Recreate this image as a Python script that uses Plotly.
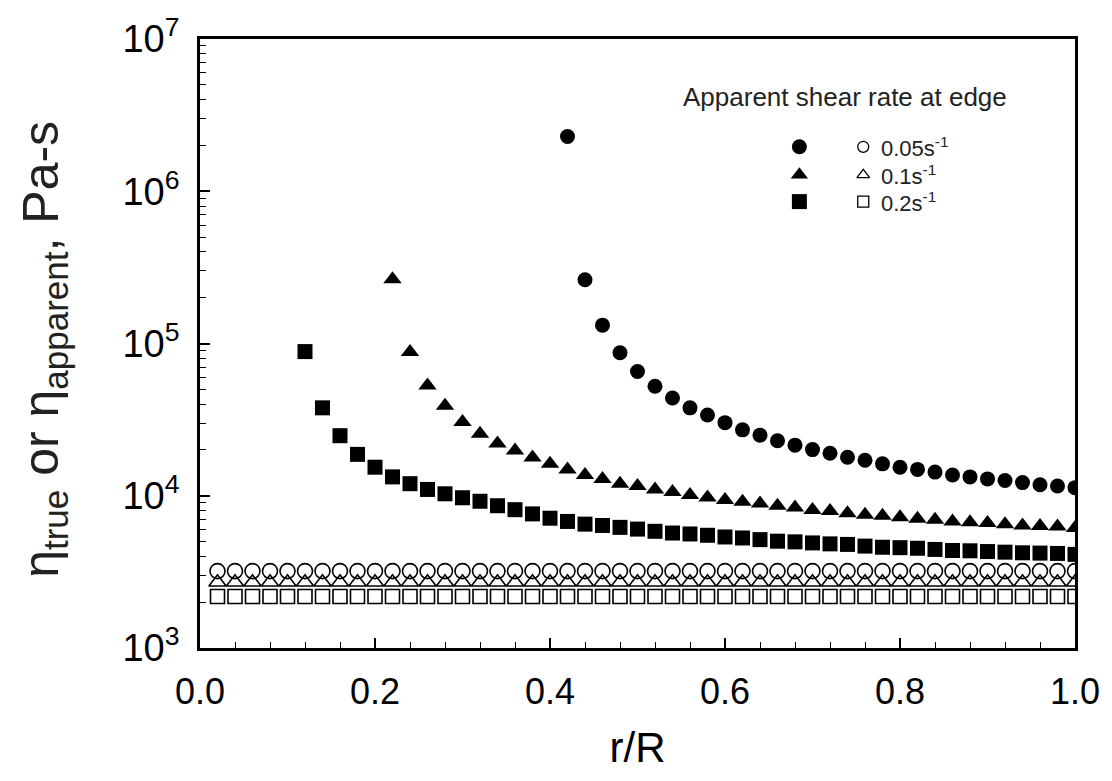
import plotly.graph_objects as go

# ---------------- data ----------------
r_open = [0.02, 0.04, 0.06, 0.08, 0.10, 0.12, 0.14, 0.16, 0.18, 0.20,
          0.22, 0.24, 0.26, 0.28, 0.30, 0.32, 0.34, 0.36, 0.38, 0.40,
          0.42, 0.44, 0.46, 0.48, 0.50, 0.52, 0.54, 0.56, 0.58, 0.60,
          0.62, 0.64, 0.66, 0.68, 0.70, 0.72, 0.74, 0.76, 0.78, 0.80,
          0.82, 0.84, 0.86, 0.88, 0.90, 0.92, 0.94, 0.96, 0.98, 1.00]

eta_app_005 = [3200, 3200, 3200, 3200, 3200, 3200, 3200, 3200, 3200, 3200,
               3200, 3200, 3200, 3200, 3200, 3200, 3200, 3200, 3200, 3200,
               3200, 3200, 3200, 3200, 3200, 3200, 3200, 3200, 3200, 3200,
               3200, 3200, 3200, 3200, 3200, 3200, 3200, 3200, 3200, 3200,
               3200, 3200, 3200, 3200, 3200, 3200, 3200, 3200, 3200, 3200]
eta_app_01 = [2700, 2700, 2700, 2700, 2700, 2700, 2700, 2700, 2700, 2700,
              2700, 2700, 2700, 2700, 2700, 2700, 2700, 2700, 2700, 2700,
              2700, 2700, 2700, 2700, 2700, 2700, 2700, 2700, 2700, 2700,
              2700, 2700, 2700, 2700, 2700, 2700, 2700, 2700, 2700, 2700,
              2700, 2700, 2700, 2700, 2700, 2700, 2700, 2700, 2700, 2700]
eta_app_02 = [2180, 2180, 2180, 2180, 2180, 2180, 2180, 2180, 2180, 2180,
              2180, 2180, 2180, 2180, 2180, 2180, 2180, 2180, 2180, 2180,
              2180, 2180, 2180, 2180, 2180, 2180, 2180, 2180, 2180, 2180,
              2180, 2180, 2180, 2180, 2180, 2180, 2180, 2180, 2180, 2180,
              2180, 2180, 2180, 2180, 2180, 2180, 2180, 2180, 2180, 2180]

r_true_005 = [0.42, 0.44, 0.46, 0.48, 0.50, 0.52, 0.54, 0.56, 0.58, 0.60,
              0.62, 0.64, 0.66, 0.68, 0.70, 0.72, 0.74, 0.76, 0.78, 0.80,
              0.82, 0.84, 0.86, 0.88, 0.90, 0.92, 0.94, 0.96, 0.98, 1.00]
eta_true_005 = [2.29e6, 2.62e5, 1.32e5, 8.7e4, 6.55e4, 5.24e4, 4.39e4, 3.78e4, 3.39e4, 3.02e4,
                2.71e4, 2.50e4, 2.30e4, 2.15e4, 2.01e4, 1.90e4, 1.79e4, 1.71e4, 1.62e4, 1.54e4,
                1.49e4, 1.43e4, 1.37e4, 1.33e4, 1.29e4, 1.26e4, 1.22e4, 1.18e4, 1.16e4, 1.13e4]

r_true_01 = [0.22, 0.24, 0.26, 0.28, 0.30, 0.32, 0.34, 0.36, 0.38, 0.40,
             0.42, 0.44, 0.46, 0.48, 0.50, 0.52, 0.54, 0.56, 0.58, 0.60,
             0.62, 0.64, 0.66, 0.68, 0.70, 0.72, 0.74, 0.76, 0.78, 0.80,
             0.82, 0.84, 0.86, 0.88, 0.90, 0.92, 0.94, 0.96, 0.98, 1.00]
eta_true_01 = [2.64e5, 8.8e4, 5.3e4, 3.9e4, 3.05e4, 2.55e4, 2.2e4, 1.98e4, 1.78e4, 1.62e4,
               1.49e4, 1.37e4, 1.29e4, 1.20e4, 1.16e4, 1.10e4, 1.06e4, 1.01e4, 9750, 9380,
               9140, 8910, 8610, 8360, 8070, 7950, 7670, 7490, 7380, 7230,
               7060, 6950, 6780, 6710, 6610, 6510, 6380, 6330, 6290, 6130]

r_true_02 = [0.12, 0.14, 0.16, 0.18, 0.20, 0.22, 0.24, 0.26, 0.28, 0.30,
             0.32, 0.34, 0.36, 0.38, 0.40, 0.42, 0.44, 0.46, 0.48, 0.50,
             0.52, 0.54, 0.56, 0.58, 0.60, 0.62, 0.64, 0.66, 0.68, 0.70,
             0.72, 0.74, 0.76, 0.78, 0.80, 0.82, 0.84, 0.86, 0.88, 0.90,
             0.92, 0.94, 0.96, 0.98, 1.00]
eta_true_02 = [8.85e4, 3.78e4, 2.48e4, 1.87e4, 1.54e4, 1.33e4, 1.20e4, 1.10e4, 1.03e4, 9700,
               9200, 8600, 8100, 7600, 7120, 6780, 6510, 6380, 6200, 6040,
               5840, 5690, 5610, 5500, 5360, 5280, 5150, 5030, 4980, 4900,
               4830, 4790, 4670, 4590, 4560, 4520, 4440, 4370, 4350, 4300,
               4260, 4220, 4200, 4180, 4120]

legend_title = "Apparent shear rate at edge"
legend_labels = ["0.05s<sup>-1</sup>", "0.1s<sup>-1</sup>", "0.2s<sup>-1</sup>"]

y_title = "η<sub>true</sub> or η<sub>apparent</sub>, Pa-s"
x_title = "r/R"
y_tickvals = [1e3, 1e4, 1e5, 1e6, 1e7]
y_ticktext = ["10<sup>3</sup>", "10<sup>4</sup>", "10<sup>5</sup>", "10<sup>6</sup>", "10<sup>7</sup>"]
x_tickvals = [0.0, 0.2, 0.4, 0.6, 0.8, 1.0]
x_ticktext = ["0.0", "0.2", "0.4", "0.6", "0.8", "1.0"]

# ---------------- styling ----------------
FONT = "Arial, Liberation Sans, sans-serif"
fig = go.Figure()

def filled(x, y, sym, size):
    fig.add_trace(go.Scatter(x=x, y=y, mode="markers", showlegend=False,
                             marker=dict(symbol=sym, size=size, color="black",
                                         line=dict(width=0))))

def hollow(x, y, sym, size):
    fig.add_trace(go.Scatter(x=x, y=y, mode="markers", showlegend=False,
                             marker=dict(symbol=sym + "-open", size=size, color="black",
                                         line=dict(width=1.6, color="black"))))

hollow(r_open, eta_app_005, "circle", 15)
hollow(r_open, eta_app_01, "triangle-up", 15)
hollow(r_open, eta_app_02, "square", 14)
filled(r_true_005, eta_true_005, "circle", 15)
filled(r_true_01, eta_true_01, "triangle-up", 16)
filled(r_true_02, eta_true_02, "square", 15)

# legend drawn on an invisible overlay axis (0..1 coordinates over the plot area)
leg_rows = [0.823, 0.777, 0.733]
leg_syms = ["circle", "triangle-up", "square"]
for yy, sym, lab in zip(leg_rows, leg_syms, legend_labels):
    fig.add_trace(go.Scatter(x=[0.685], y=[yy], mode="markers", xaxis="x2", yaxis="y2",
                             showlegend=False,
                             marker=dict(symbol=sym, size=15, color="black")))
    fig.add_trace(go.Scatter(x=[0.758], y=[yy], mode="markers", xaxis="x2", yaxis="y2",
                             showlegend=False,
                             marker=dict(symbol=sym + "-open", size=11, color="black",
                                         line=dict(width=1.3, color="black"))))
    fig.add_annotation(x=0.776, y=yy, xref="x2", yref="y2", text=lab, showarrow=False,
                       xanchor="left", yanchor="middle",
                       font=dict(family=FONT, size=22, color="#222"))

fig.add_annotation(x=0.550, y=0.905, xref="x2", yref="y2", text=legend_title,
                   showarrow=False, xanchor="left", yanchor="middle",
                   font=dict(family=FONT, size=26, color="#222"))

# y-axis title as a rotated annotation
fig.add_annotation(x=-0.178, y=0.49, xref="paper", yref="paper", text=y_title,
                   textangle=-90, showarrow=False, xanchor="center", yanchor="middle",
                   font=dict(family=FONT, size=50, color="#222"))

fig.update_layout(
    width=1112, height=781,
    margin=dict(l=200, r=30, t=32, b=133),
    paper_bgcolor="white", plot_bgcolor="white",
    font=dict(family=FONT, color="black"),
    xaxis=dict(range=[0, 1], showgrid=False, zeroline=False,
               showline=True, linewidth=2.8, linecolor="black", mirror=True,
               ticks="inside", ticklen=10, tickwidth=1.5, tickcolor="black",
               tickvals=x_tickvals, ticktext=x_ticktext,
               tickfont=dict(family=FONT, size=36, color="black"),
               ticklabelstandoff=10,
               minor=dict(ticks="inside", ticklen=6, tickwidth=1.2, tickcolor="black",
                          dtick=0.04, tick0=0, showgrid=False),
               title=dict(text=x_title, font=dict(family=FONT, size=42, color="black"),
                          standoff=22)),
    yaxis=dict(type="log", range=[3, 7], showgrid=False, zeroline=False,
               showline=True, linewidth=2.8, linecolor="black", mirror=True,
               ticks="inside", ticklen=10, tickwidth=1.5, tickcolor="black",
               tickvals=y_tickvals, ticktext=y_ticktext,
               tickfont=dict(family=FONT, size=38, color="black"),
               ticklabelstandoff=10,
               minor=dict(ticks="inside", ticklen=6, tickwidth=1.2, tickcolor="black",
                          tickvals=[m * 10 ** e for e in (3, 4, 5, 6) for m in range(2, 10)],
                          showgrid=False)),
    xaxis2=dict(overlaying="x", range=[0, 1], visible=False),
    yaxis2=dict(overlaying="y", range=[0, 1], visible=False),
)

fig.write_html("out.html", config={"displayModeBar": False},
               post_script="document.body.style.margin='0px';document.body.style.overflow='hidden';")
